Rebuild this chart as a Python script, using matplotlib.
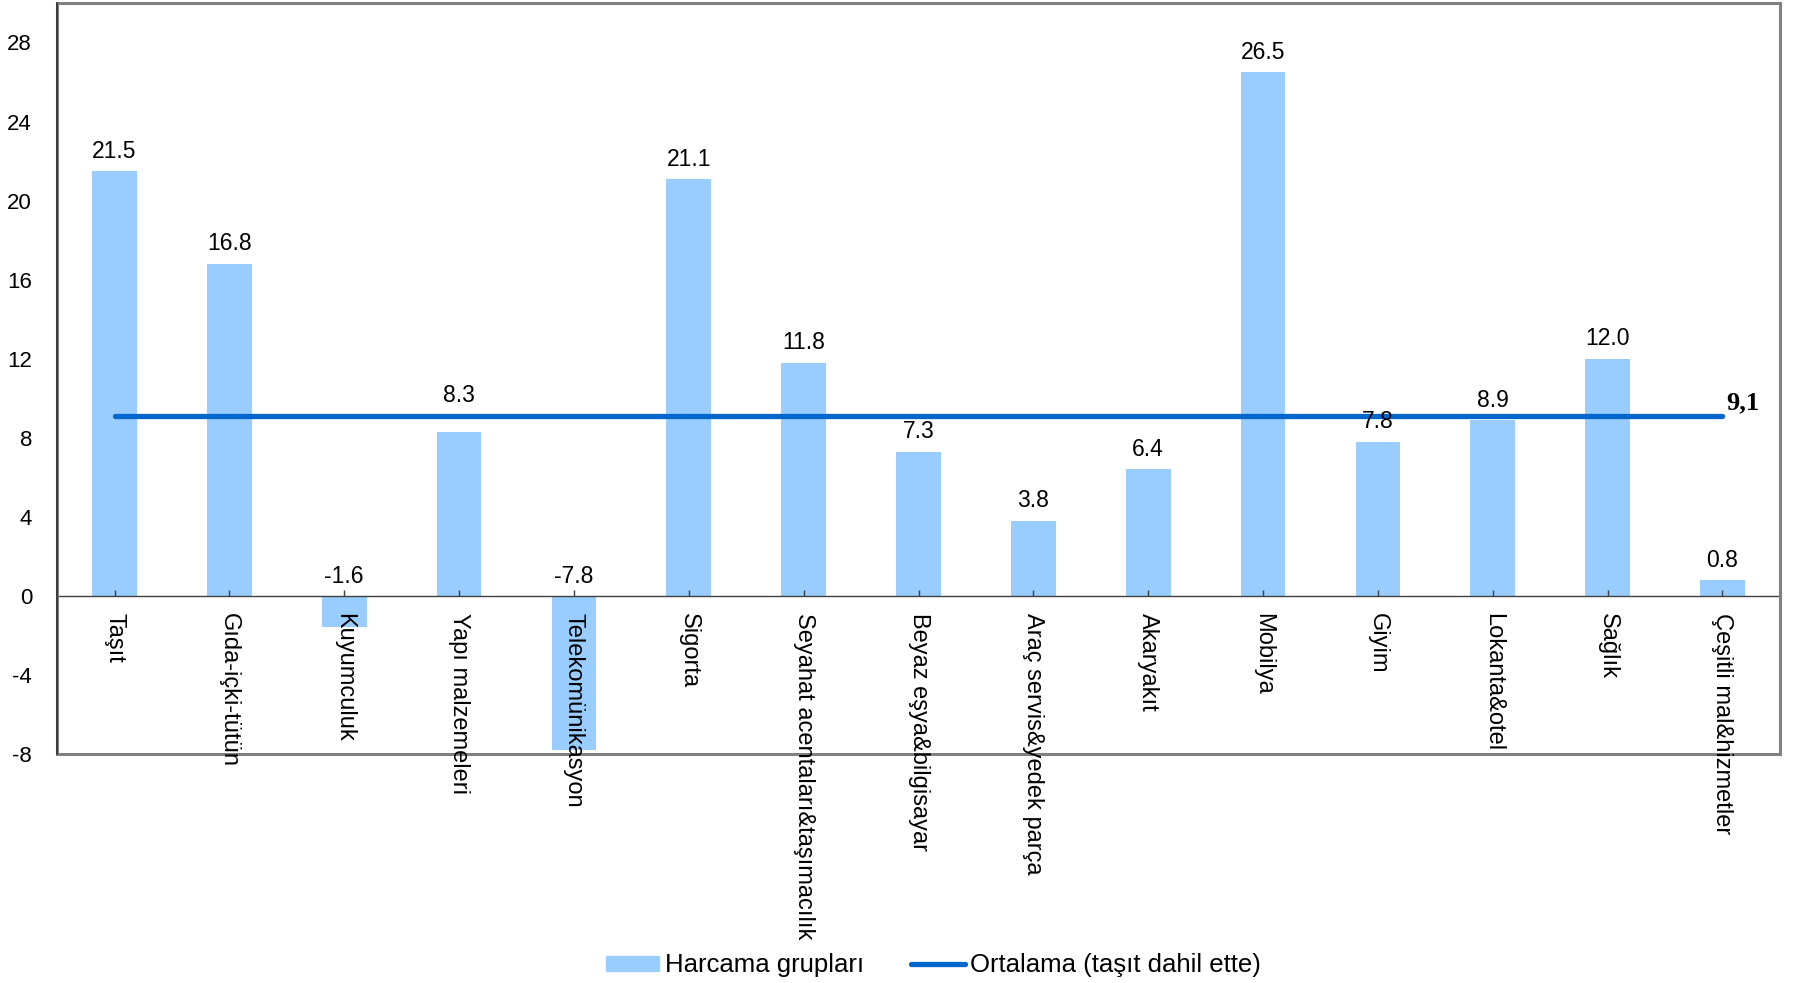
import matplotlib.pyplot as plt
import matplotlib.patches as mpatches
import matplotlib.lines as mlines
import numpy as np

CATEGORIES = ["Taşıt", "Gıda-içki-tütün", "Kuyumculuk", "Yapı malzemeleri",
              "Telekomünikasyon", "Sigorta", "Seyahat acentaları&taşımacılık",
              "Beyaz eşya&bilgisayar", "Araç servis&yedek parça", "Akaryakıt",
              "Mobilya", "Giyim", "Lokanta&otel", "Sağlık", "Çeşitli mal&hizmetler"]
VALUES = [21.5, 16.8, -1.6, 8.3, -7.8, 21.1, 11.8, 7.3, 3.8, 6.4, 26.5, 7.8, 8.9, 12.0, 0.8]
MEAN_VALUE = 9.1
MEAN_LABEL = "9,1"
Y_TICKS = [-8, -4, 0, 4, 8, 12, 16, 20, 24, 28]

BAR_COLOR = "#99CCFF"
LINE_COLOR = "#0066CC"
LABEL_OFFSET = 6  # points above the bar top
LABEL_NUDGE = {3: 12}  # the "8.3" label is lifted above the mean line

plt.rcParams["font.family"] = ["Liberation Sans", "DejaVu Sans"]
plt.rcParams["font.size"] = 16
plt.rcParams["axes.unicode_minus"] = False

fig = plt.figure(figsize=(17.95, 9.83), dpi=100)
ax = fig.add_axes([0.0318, 0.233, 0.9598, 0.764])

x = np.arange(len(CATEGORIES))
ax.bar(x, VALUES, width=0.39, color=BAR_COLOR, zorder=2)

# value labels, negatives sit above the zero line
for i, (xi, v) in enumerate(zip(x, VALUES)):
    ax.annotate("%.1f" % v, (xi, max(v, 0)),
                xytext=(0, LABEL_OFFSET + LABEL_NUDGE.get(i, 0)), textcoords="offset points",
                ha="center", va="bottom", fontsize=16.5, zorder=5)

# average line
ax.plot([x[0], x[-1]], [MEAN_VALUE, MEAN_VALUE], color=LINE_COLOR, lw=3.8,
        solid_capstyle="round", zorder=3)
ax.annotate(MEAN_LABEL, (x[-1], MEAN_VALUE), xytext=(3, 1), textcoords="offset points",
            ha="left", va="bottom", fontsize=19, fontweight="bold",
            family="Liberation Serif", zorder=5)

ax.set_xlim(-0.5, len(CATEGORIES) - 0.5)
ax.set_ylim(-8, 30)
ax.set_yticks(Y_TICKS)
ax.tick_params(axis="y", length=0, pad=18, labelsize=16)

# x axis sits on zero, drawn over the bars and the frame
for s in ["top", "right", "left"]:
    ax.spines[s].set_visible(False)
ax.spines["bottom"].set_position(("data", 0))
ax.spines["bottom"].set_color("#404040")
ax.spines["bottom"].set_linewidth(1.0)
ax.spines["bottom"].set_zorder(4)
ax.set_xticks(x)
ax.set_xticklabels(CATEGORIES, rotation=270, ha="center", va="top", fontsize=17)
ax.tick_params(axis="x", direction="in", length=4, width=1, color="#404040", pad=12)
ax.xaxis.set_zorder(9)

# plot area frame
frame = mpatches.Rectangle((0, 0), 1, 1, transform=ax.transAxes, fill=False,
                           edgecolor="#808080", lw=2.2, clip_on=False, zorder=7)
ax.add_patch(frame)
ax.plot([0, 0], [0, 1], transform=ax.transAxes, color="#303030", lw=1.2,
        clip_on=False, zorder=8)

handles = [mpatches.Patch(color=BAR_COLOR, label="Harcama grupları"),
           mlines.Line2D([], [], color=LINE_COLOR, lw=3.8, solid_capstyle="round",
                         label="Ortalama (taşıt dahil ette)")]
fig.legend(handles=handles, loc="center", bbox_to_anchor=(0.52, 0.018), ncol=2,
           frameon=False, fontsize=18.5, handlelength=2.1, handleheight=0.5,
           handletextpad=0.2, columnspacing=1.85, borderpad=0.1)

fig.savefig("out.png", dpi=100)
